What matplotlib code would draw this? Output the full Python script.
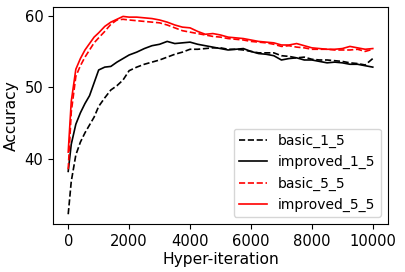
import matplotlib
matplotlib.use('Agg')
import matplotlib.pyplot as plt

iters = [0, 100, 250, 400, 550, 700, 850, 1000, 1200, 1400, 1600, 1800, 2000, 2250, 2500,
         2750, 3000, 3250, 3500, 3750, 4000, 4250, 4500, 4750, 5000, 5250, 5500, 5750,
         6000, 6250, 6500, 6750, 7000, 7250, 7500, 7750, 8000, 8250, 8500, 8750, 9000,
         9250, 9500, 9750, 10000]

basic_1_5 = [32.2, 36.8, 40.5, 42.3, 43.6, 44.7, 45.8, 47.3, 48.5, 49.6, 50.2, 51.0, 52.3,
             52.8, 53.2, 53.5, 53.8, 54.2, 54.6, 54.9, 55.3, 55.3, 55.4, 55.5, 55.5, 55.3,
             55.3, 55.2, 55.0, 54.8, 54.8, 54.8, 54.4, 54.3, 54.1, 54.2, 53.9, 53.8, 53.8,
             53.7, 53.6, 53.4, 53.3, 53.1, 54.0]
improved_1_5 = [38.2, 42.0, 44.8, 46.4, 47.7, 48.8, 50.6, 52.4, 52.8, 52.9, 53.5, 54.0, 54.5,
                54.9, 55.4, 55.8, 56.0, 56.4, 56.1, 56.2, 56.3, 56.0, 55.8, 55.6, 55.4, 55.2,
                55.3, 55.4, 55.0, 54.7, 54.6, 54.4, 53.8, 54.0, 54.1, 53.8, 53.8, 53.6, 53.4,
                53.5, 53.4, 53.2, 53.2, 53.0, 52.8]
basic_5_5 = [38.5, 46.5, 51.5, 53.0, 54.2, 55.2, 56.2, 56.9, 57.8, 58.8, 59.4, 59.5, 59.4,
             59.3, 59.2, 59.1, 59.0, 58.7, 58.3, 57.9, 57.7, 57.5, 57.3, 57.1, 57.0, 56.8,
             56.7, 56.6, 56.4, 56.3, 56.2, 56.0, 55.7, 55.8, 55.6, 55.5, 55.3, 55.3, 55.3,
             55.2, 55.2, 55.2, 55.3, 55.0, 55.3]
improved_5_5 = [40.9, 48.0, 52.5, 54.0, 55.2, 56.1, 57.0, 57.6, 58.5, 59.1, 59.5, 59.9, 59.8,
                59.8, 59.7, 59.6, 59.4, 59.1, 58.7, 58.4, 58.3, 57.8, 57.4, 57.5, 57.3, 57.0,
                56.9, 56.8, 56.6, 56.4, 56.3, 56.2, 55.9, 55.9, 56.1, 55.8, 55.5, 55.4, 55.3,
                55.3, 55.4, 55.7, 55.5, 55.3, 55.4]

fig = plt.figure(figsize=(4.06, 2.72), dpi=100)
ax = fig.add_axes([0.1305, 0.176, 0.8252, 0.8])

ax.plot(iters, basic_1_5, 'k--', linewidth=1.2, label='basic_1_5')
ax.plot(iters, improved_1_5, 'k-', linewidth=1.2, label='improved_1_5')
ax.plot(iters, basic_5_5, 'r--', linewidth=1.2, label='basic_5_5')
ax.plot(iters, improved_5_5, 'r-', linewidth=1.2, label='improved_5_5')

ax.set_xlabel('Hyper-iteration', fontsize=11.2, labelpad=2)
ax.set_ylabel('Accuracy', fontsize=11.2, labelpad=4)
ax.set_xticks([0, 2000, 4000, 6000, 8000, 10000])
ax.set_yticks([40, 50, 60])
ax.tick_params(labelsize=10.6)
ax.legend(loc='lower right', fontsize=10)

fig.savefig('out.png', dpi=100)
